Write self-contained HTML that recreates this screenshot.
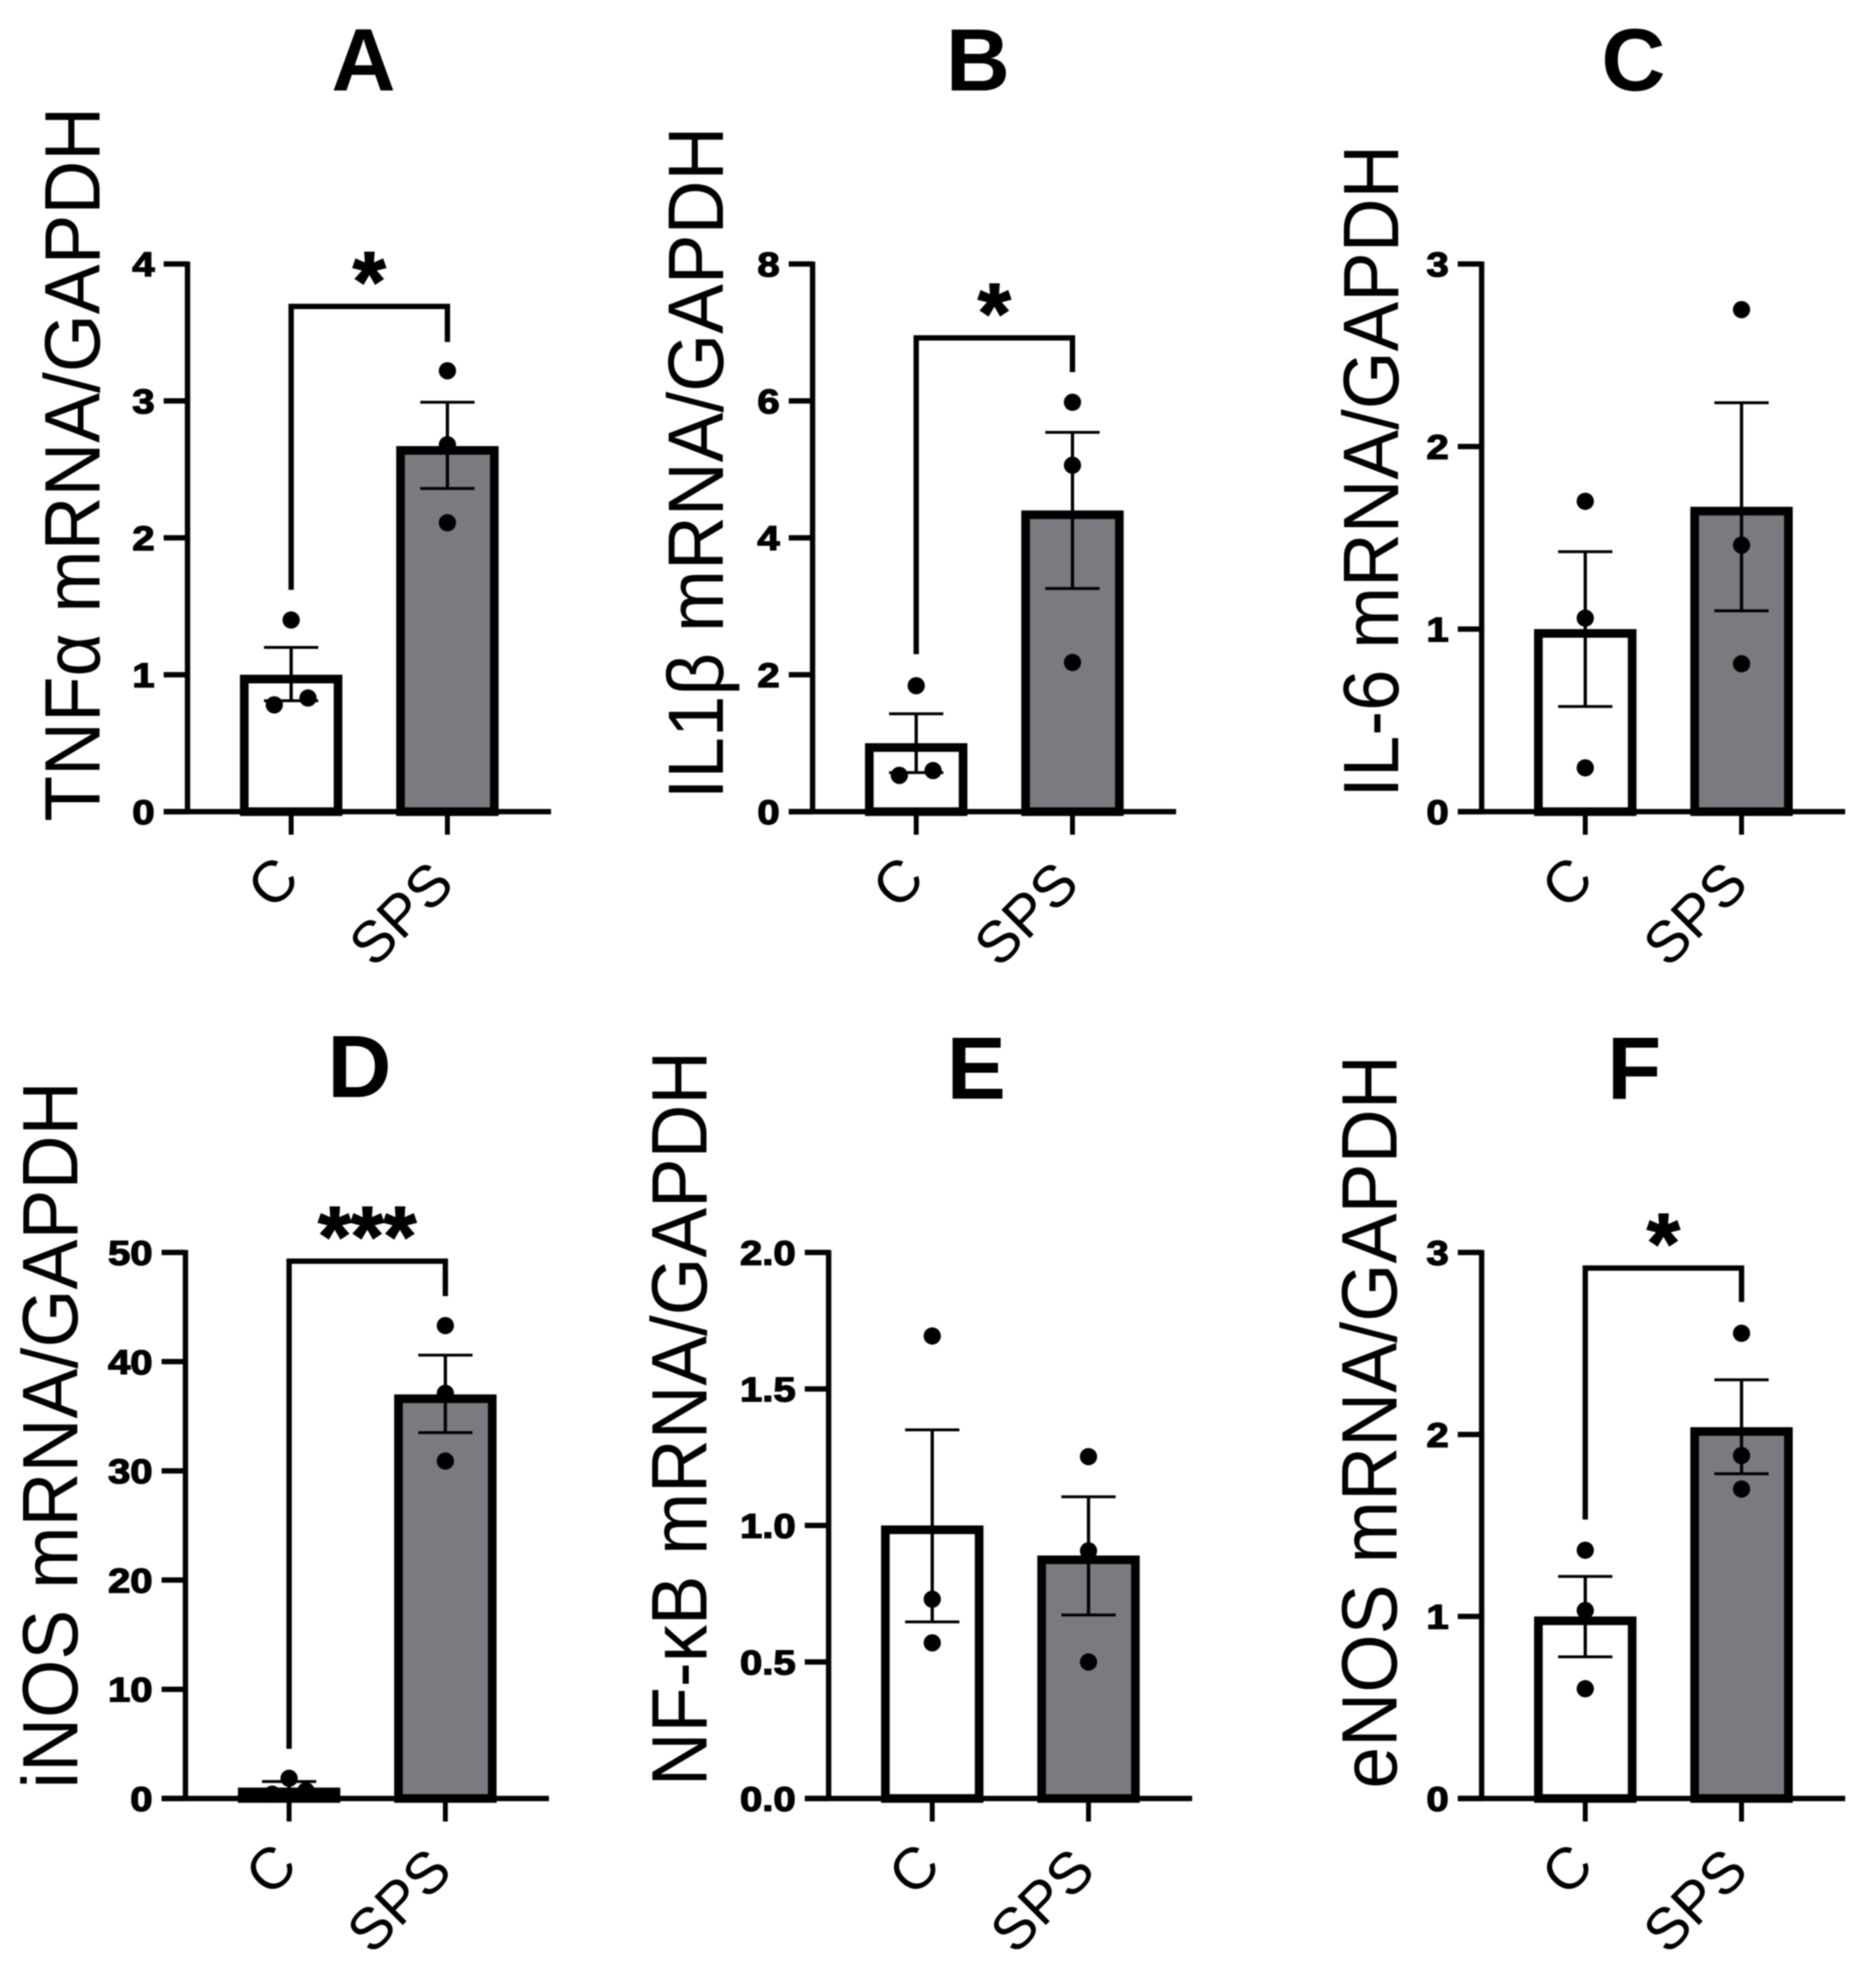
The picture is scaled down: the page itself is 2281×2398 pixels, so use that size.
<!DOCTYPE html>
<html lang="en">
<head>
<meta charset="utf-8">
<title>mRNA expression bar charts</title>
<style>
html,body{margin:0;padding:0;background:#fff;}
svg{display:block;filter:blur(0.9px);}
text{font-family:"Liberation Sans",sans-serif;fill:#000;}
.panel-title{font-weight:700;font-size:108px;text-anchor:middle;}
.y-title{font-size:96px;}
</style>
</head>
<body>
<svg id="figure" xmlns="http://www.w3.org/2000/svg" width="2281" height="2398" viewBox="0 0 2281 2398">
  <rect width="2281" height="2398" fill="#fff"/>
  <g id="panel-a">
    <text class="panel-title" x="442" y="110">A</text>
    <text class="y-title" transform="translate(121,999) rotate(-90)" textLength="869" lengthAdjust="spacingAndGlyphs">TNFα mRNA/GAPDH</text>
  </g>
  <g id="panel-b">
    <text class="panel-title" x="1189" y="110">B</text>
    <text class="y-title" transform="translate(879,972) rotate(-90)" textLength="818" lengthAdjust="spacingAndGlyphs">IL1β mRNA/GAPDH</text>
  </g>
  <g id="panel-c">
    <text class="panel-title" x="1986" y="110">C</text>
    <text class="y-title" transform="translate(1700,970) rotate(-90)" textLength="794" lengthAdjust="spacingAndGlyphs">IL-6 mRNA/GAPDH</text>
  </g>
  <g id="panel-d">
    <text class="panel-title" x="437" y="1334">D</text>
    <text class="y-title" transform="translate(94,2175) rotate(-90)" textLength="860" lengthAdjust="spacingAndGlyphs">iNOS mRNA/GAPDH</text>
  </g>
  <g id="panel-e">
    <text class="panel-title" x="1187" y="1336">E</text>
    <text class="y-title" transform="translate(859,2172) rotate(-90)" textLength="894" lengthAdjust="spacingAndGlyphs">NF-κB mRNA/GAPDH</text>
  </g>
  <g id="panel-f">
    <text class="panel-title" x="1987" y="1336">F</text>
    <text class="y-title" transform="translate(1698,2175) rotate(-90)" textLength="892" lengthAdjust="spacingAndGlyphs">eNOS mRNA/GAPDH</text>
  </g>
</svg>
<script>
// ---- data ----
const panelIds = ['a', 'b', 'c', 'd', 'e', 'f'];
const categories = ['C', 'SPS'];
const axisMax = [4, 8, 3, 50, 2, 3];
const tickValues = [
  [0, 1, 2, 3, 4],
  [0, 2, 4, 6, 8],
  [0, 1, 2, 3],
  [0, 10, 20, 30, 40, 50],
  [0, 0.5, 1, 1.5, 2],
  [0, 1, 2, 3]
];
const tickLabels = [
  ['0', '1', '2', '3', '4'],
  ['0', '2', '4', '6', '8'],
  ['0', '1', '2', '3'],
  ['0', '10', '20', '30', '40', '50'],
  ['0.0', '0.5', '1.0', '1.5', '2.0'],
  ['0', '1', '2', '3']
];
const barMeans = [
  [1, 2.67],
  [1, 4.4],
  [1, 1.67],
  [1, 37],
  [1, 0.89],
  [1, 2.04]
];
const errorUpper = [
  [1.2, 2.99],
  [1.43, 5.54],
  [1.424, 2.24],
  [1.55, 40.6],
  [1.35, 1.105],
  [1.22, 2.3]
];
const errorLower = [
  [0.81, 2.36],
  [0.57, 3.26],
  [0.576, 1.1],
  [0.45, 33.5],
  [0.647, 0.672],
  [0.778, 1.784]
];
const controlPoints = [
  [1.4, 0.83, 0.78],
  [1.84, 0.6, 0.53],
  [1.7, 1.06, 0.24],
  [0.7, 0.4, 1.85],
  [1.694, 0.73, 0.57],
  [1.364, 1.033, 0.603]
];
const spsPoints = [
  [3.22, 2.68, 2.11],
  [5.98, 5.06, 2.18],
  [2.75, 1.46, 0.81],
  [43.3, 37.1, 30.9],
  [1.252, 0.907, 0.5],
  [2.556, 1.884, 1.7]
];
const significance = ['*', '*', '', '***', '', '*'];
const bracketTop = [3.69, 6.92, null, 49.2, null, 2.914];
const bracketLeftEnd = [1.62, 2.3, null, 4.55, null, 1.533];
const bracketRightEnd = [3.43, 6.42, null, 46, null, 2.728];

// ---- layout ----
const axisXs = [228, 988, 1801.5, 225.5, 1007.5, 1801.5];
const plotTops = [321, 321, 321, 1523, 1523, 1523];
const plotBases = [987, 987, 987, 2187, 2187, 2187];
const BAR_OFFSET = 126;
const BAR_STEP = 190;
const BAR_W = 114;
const BAR_STROKE = 10.5;
const AXIS_W = 6.5;
const TICK_LEN = 29;
const X_RIGHT = 442;
const DOT_R = 10.5;
const CAP_HALF = 33;
const JITTER = 20.5;
const GREY = '#7b7a80';
const SVGNS = 'http://www.w3.org/2000/svg';

function make(parent, tag, attrs) {
  const el = document.createElementNS(SVGNS, tag);
  for (const k in attrs) el.setAttribute(k, attrs[k]);
  parent.appendChild(el);
  return el;
}
function line(parent, x1, y1, x2, y2, w, cap) {
  return make(parent, 'line', {x1: x1, y1: y1, x2: x2, y2: y2, stroke: '#000', 'stroke-width': w, 'stroke-linecap': cap || 'butt'});
}
// Spread dots that would overlap horizontally, lowest to the left
function swarmOffsets(pxs) {
  const offs = pxs.map(function () { return 0; });
  for (let i = 0; i < pxs.length - 1; i++) {
    if (Math.abs(pxs[i] - pxs[i + 1]) < 22) {
      offs[i] = JITTER;
      offs[i + 1] = -JITTER;
      i++;
    }
  }
  return offs;
}

panelIds.forEach(function (id, p) {
  const root = document.getElementById('panel-' + id);
  const ax = axisXs[p];
  const top = plotTops[p];
  const base = plotBases[p];
  const y = function (v) { return base - (v / axisMax[p]) * (base - top); };
  const x = function (i) { return ax + BAR_OFFSET + i * BAR_STEP; };

  categories.forEach(function (cat, i) {
    const cx = x(i);
    const bar = make(root, 'rect', {
      x: cx - BAR_W / 2,
      y: y(barMeans[p][i]) + BAR_STROKE / 2,
      width: BAR_W,
      height: Math.max(0, base - y(barMeans[p][i]) - BAR_STROKE / 2),
      fill: i === 0 ? '#fff' : GREY,
      stroke: '#000',
      'stroke-width': BAR_STROKE
    });
    
    

    const err = make(root, 'g', {});
    
    
    line(err, cx, y(errorUpper[p][i]), cx, y(errorLower[p][i]), 4);
    line(err, cx - CAP_HALF, y(errorUpper[p][i]), cx + CAP_HALF, y(errorUpper[p][i]), 3.5);
    line(err, cx - CAP_HALF, y(errorLower[p][i]), cx + CAP_HALF, y(errorLower[p][i]), 3.5);

    const vals = i === 0 ? controlPoints[p] : spsPoints[p];
    const offs = swarmOffsets(vals.map(y));
    vals.forEach(function (v, k) {
      const dot = make(root, 'circle', {cx: cx + offs[k], cy: y(v), r: DOT_R, fill: '#000'});
      
      
    });
  });

  const yAxis = line(root, ax, top - 3, ax, base + 3, AXIS_W);
  
  
  const xAxis = line(root, ax - TICK_LEN, base, ax + X_RIGHT, base, AXIS_W);
  
  

  tickValues[p].forEach(function (v, k) {
    const ty = y(v);
    const tick = line(root, ax - TICK_LEN, ty, ax, ty, AXIS_W);
    
    
    const lbl = make(root, 'text', {
      transform: 'translate(' + (ax - 40) + ',' + (ty + 15) + ') scale(1.16,1)',
      'text-anchor': 'end',
      'font-size': 42,
      'font-weight': 700,
      stroke: '#000',
      'stroke-width': 1.5
    });
    lbl.textContent = tickLabels[p][k];
    
    
  });

  categories.forEach(function (cat, i) {
    const cx = x(i);
    const tick = line(root, cx, base, cx, base + 28, 6);
    
    
    const lbl = make(root, 'text', {
      transform: 'translate(' + (cx + 13 - i * 2) + ',' + (base + 85 + i * 6) + ') rotate(-45)',
      'text-anchor': 'end',
      'font-size': 71
    });
    lbl.textContent = cat;
    
    
  });

  if (bracketTop[p] !== null) {
    const by = y(bracketTop[p]);
    const bracket = make(root, 'polyline', {
      points: x(0) + ',' + y(bracketLeftEnd[p]) + ' ' + x(0) + ',' + by + ' ' + x(1) + ',' + by + ' ' + x(1) + ',' + y(bracketRightEnd[p]),
      fill: 'none',
      stroke: '#000',
      'stroke-width': 6.5,
      'stroke-linejoin': 'miter'
    });
    
    
    const star = make(root, 'text', {
      x: (x(0) + x(1)) / 2,
      y: by + 5,
      'text-anchor': 'middle',
      'font-size': 102,
      'font-weight': 700,
      stroke: '#000',
      'stroke-width': 2
    });
    star.textContent = significance[p];
    
    
  }
});
</script>
</body>
</html>
